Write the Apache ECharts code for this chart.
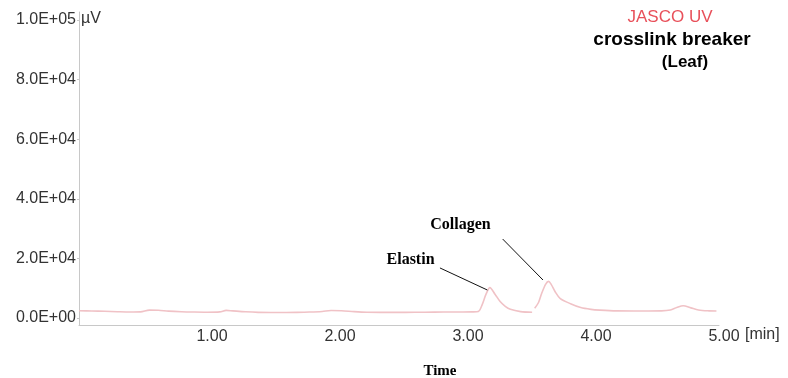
<!DOCTYPE html>
<html>
<head>
<meta charset="utf-8">
<script src="https://cdn.jsdelivr.net/npm/echarts@6/dist/echarts.min.js"></script>
<style>
html,body{margin:0;padding:0;background:#fff;}
#chart{width:788px;height:378px;}
</style>
</head>
<body>
<div id="chart"></div>
<script>
// Retention time (min)
const times = [0.00,0.10,0.20,0.30,0.40,0.48,0.55,0.62,0.70,0.80,0.90,1.00,1.10,1.15,1.20,1.30,1.40,1.50,1.60,1.70,1.80,1.90,1.97,2.05,2.15,2.25,2.40,2.55,2.70,2.85,3.00,3.07,3.12,3.15,3.18,3.21,3.25,3.29,3.33,3.37,3.45,3.54,3.55,3.56,3.59,3.615,3.645,3.668,3.69,3.72,3.76,3.84,3.92,4.00,4.07,4.20,4.40,4.55,4.62,4.67,4.72,4.78,4.84,4.92,4.98];
// Detector signal (µV); null = break in trace
const signal = [2450,2350,2250,2100,2000,2050,2650,2600,2300,2100,2000,1950,2050,2550,2400,2100,1900,1850,1850,1900,2000,2200,2500,2450,2150,1950,1900,1900,1950,2000,2000,2050,2200,4500,8000,10200,8000,5500,3900,2900,2150,1950,null,3250,5200,8300,11300,12300,11200,8800,6500,4800,3500,2900,2650,2400,2350,2400,2700,3500,4100,3400,2700,2400,2350];
// Axis ticks
const yTicks = [0,20000,40000,60000,80000,100000];
const xTicks = [1,2,3,4,5];
// Peak annotations: label, label position [t, µV], leader line start, leader line end
const peakNames = ['Elastin','Collagen'];
const peakLabelPos = [[2.59,19500],[2.98,31200]];
const peakLineStart = [[2.82,16800],[3.31,26500]];
const peakLineEnd = [[3.19,9400],[3.625,12750]];

function sci(v){
  if (v === 0) return '0.0E+00';
  const e = Math.floor(Math.log10(v) + 1e-9);
  const m = v / Math.pow(10, e);
  return m.toFixed(1) + 'E+' + String(e).padStart(2,'0');
}

const chart = echarts.init(document.getElementById('chart'));
const seriesData = times.map((t,i)=>[t, signal[i] === null ? '-' : signal[i]]);

chart.setOption({
  animation:false,
  backgroundColor:'#fff',
  grid:{left:79,right:69,top:12,bottom:53},
  xAxis:{
    type:'value', min:0, max:5,
    axisLine:{show:true,onZero:false,lineStyle:{color:'#c8c8c8',width:1}},
    axisTick:{show:false},
    splitLine:{show:false},
    axisLabel:{
      customValues:xTicks,
      formatter:v=>v.toFixed(2),
      color:'#333', fontSize:16, fontFamily:'Liberation Sans, Arial',
      margin:4, padding:[0,0,0,10]
    }
  },
  yAxis:{
    type:'value', min:-2350, max:102700,
    axisLine:{show:true,lineStyle:{color:'#c8c8c8',width:1}},
    axisTick:{show:true,customValues:yTicks,length:2,lineStyle:{color:'#c8c8c8'}},
    splitLine:{show:false},
    axisLabel:{
      customValues:yTicks,
      formatter:v=>sci(v),
      color:'#333', fontSize:16, fontFamily:'Liberation Sans, Arial',
      margin:3
    }
  },
  series:[{
    type:'line',
    data:seriesData,
    showSymbol:false,
    smooth:0.3,
    connectNulls:false,
    lineStyle:{color:'#f0c2c6',width:1.6},
    markLine:{
      silent:true, symbol:'none', animation:false,
      label:{show:false},
      lineStyle:{color:'#111',width:1,type:'solid'},
      emphasis:{disabled:true},
      data:peakNames.map((n,i)=>[{coord:peakLineStart[i]},{coord:peakLineEnd[i]}])
    },
    markPoint:{
      silent:true, symbol:'circle', symbolSize:1,
      itemStyle:{color:'rgba(0,0,0,0)'},
      label:{show:true,position:'inside',formatter:p=>p.name,color:'#000',
        fontFamily:'Liberation Serif, Times New Roman',fontWeight:'bold',fontSize:16},
      data:peakNames.map((n,i)=>({name:n,coord:peakLabelPos[i]}))
    }
  }],
  graphic:[
    {type:'text',left:81,top:11,style:{text:'µV',fill:'#333',font:'16px "Liberation Sans", Arial'}},
    {type:'text',left:745,top:327,style:{text:'[min]',fill:'#333',font:'16px "Liberation Sans", Arial'}},
    {type:'text',x:670,y:17,style:{text:'JASCO UV',fill:'#e8505a',font:'17px "Liberation Sans", Arial',align:'center',verticalAlign:'middle'}},
    {type:'text',x:672,y:40,style:{text:'crosslink breaker',fill:'#000',font:'bold 19px "Liberation Sans", Arial',align:'center',verticalAlign:'middle'}},
    {type:'text',x:685,y:62,style:{text:'(Leaf)',fill:'#000',font:'bold 17px "Liberation Sans", Arial',align:'center',verticalAlign:'middle'}},
    {type:'text',x:440,y:371,style:{text:'Time',fill:'#000',font:'bold 15px "Liberation Serif", "Times New Roman"',align:'center',verticalAlign:'middle'}}
  ]
});
</script>
</body>
</html>
